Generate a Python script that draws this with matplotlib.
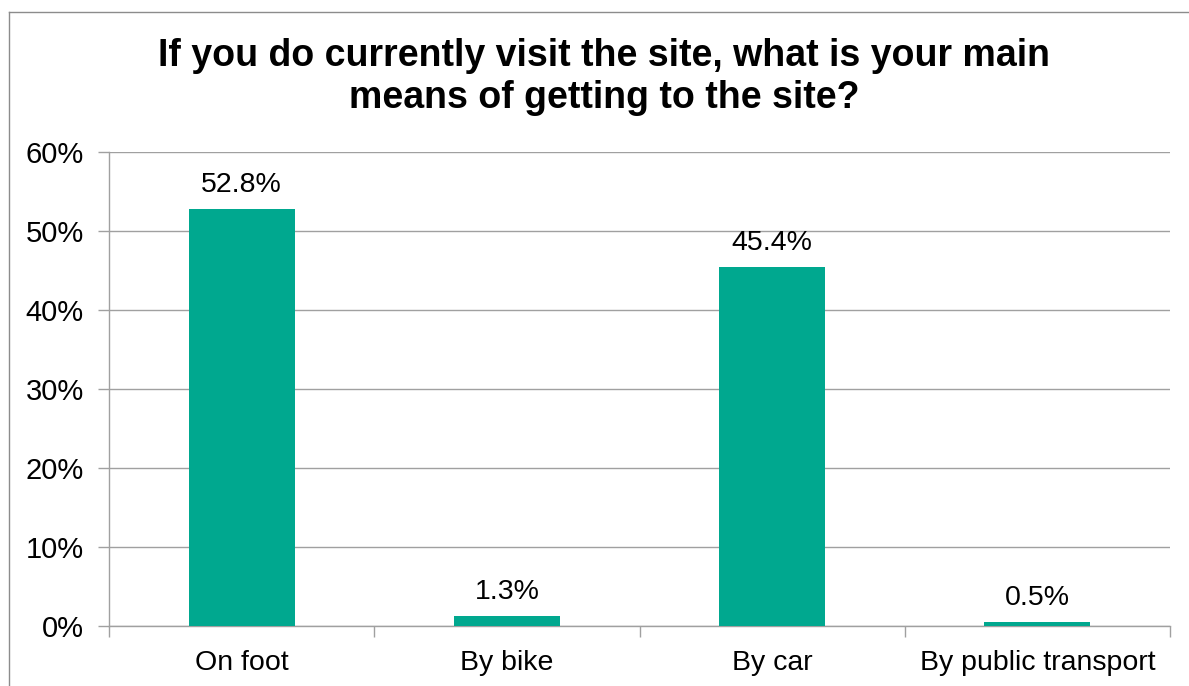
import matplotlib
matplotlib.use("Agg")
import matplotlib.pyplot as plt
from matplotlib.lines import Line2D
from matplotlib.ticker import MultipleLocator, FuncFormatter

categories = ["On foot", "By bike", "By car", "By public transport"]
values = [52.8, 1.3, 45.4, 0.5]
labels = ["52.8%", "1.3%", "45.4%", "0.5%"]

plt.rcParams['font.family'] = ['Liberation Sans', 'DejaVu Sans']

W, H = 1189, 686
fig = plt.figure(figsize=(W/100, H/100), dpi=100)
bx, by = 8.5/W, 1 - 11.5/H
fig.lines.append(Line2D([bx, 1.0], [by, by], transform=fig.transFigure, color='#8c8c8c', linewidth=1.0))
fig.lines.append(Line2D([bx, bx], [0.0, by], transform=fig.transFigure, color='#8c8c8c', linewidth=1.0))

ax = fig.add_axes([109/W, 1-626/H, (1170-109)/W, (626-152)/H])
x = list(range(len(categories)))
ax.bar(x, values, width=0.4, color='#00A88F', zorder=3)
ax.set_xlim(-0.5, len(categories)-0.5)
ax.set_ylim(0, 60)
ax.yaxis.set_major_locator(MultipleLocator(10))
ax.yaxis.set_major_formatter(FuncFormatter(lambda v, p: f"{int(v)}%"))
ax.grid(axis='y', color='#a0a0a0', linewidth=1.0, zorder=0)
ax.set_axisbelow(True)
for s in ['top', 'right']:
    ax.spines[s].set_visible(False)
for s in ['left', 'bottom']:
    ax.spines[s].set_color('#a0a0a0')
    ax.spines[s].set_linewidth(1.0)
ax.set_xticks([i - 0.5 for i in range(len(categories)+1)], minor=False)
ax.set_xticklabels([])
ax.set_xticks(x, minor=True)
ax.set_xticklabels(categories, minor=True, fontsize=20.5)
ax.tick_params(axis='x', which='major', length=8, color='#a0a0a0', width=1)
ax.tick_params(axis='x', which='minor', length=0, pad=17)
ax.tick_params(axis='y', length=8, color='#a0a0a0', width=1, labelsize=21, pad=10)

for xi, v, lab in zip(x, values, labels):
    ax.annotate(lab, (xi, v), xytext=(0, 8), textcoords='offset points',
                ha='center', va='bottom', fontsize=20.5)

fig.text(604/W, 1-77/H, "If you do currently visit the site, what is your main\nmeans of getting to the site?",
         ha='center', va='center', fontsize=27, fontweight='bold', linespacing=1.2)

fig.savefig("out.png", dpi=100)
